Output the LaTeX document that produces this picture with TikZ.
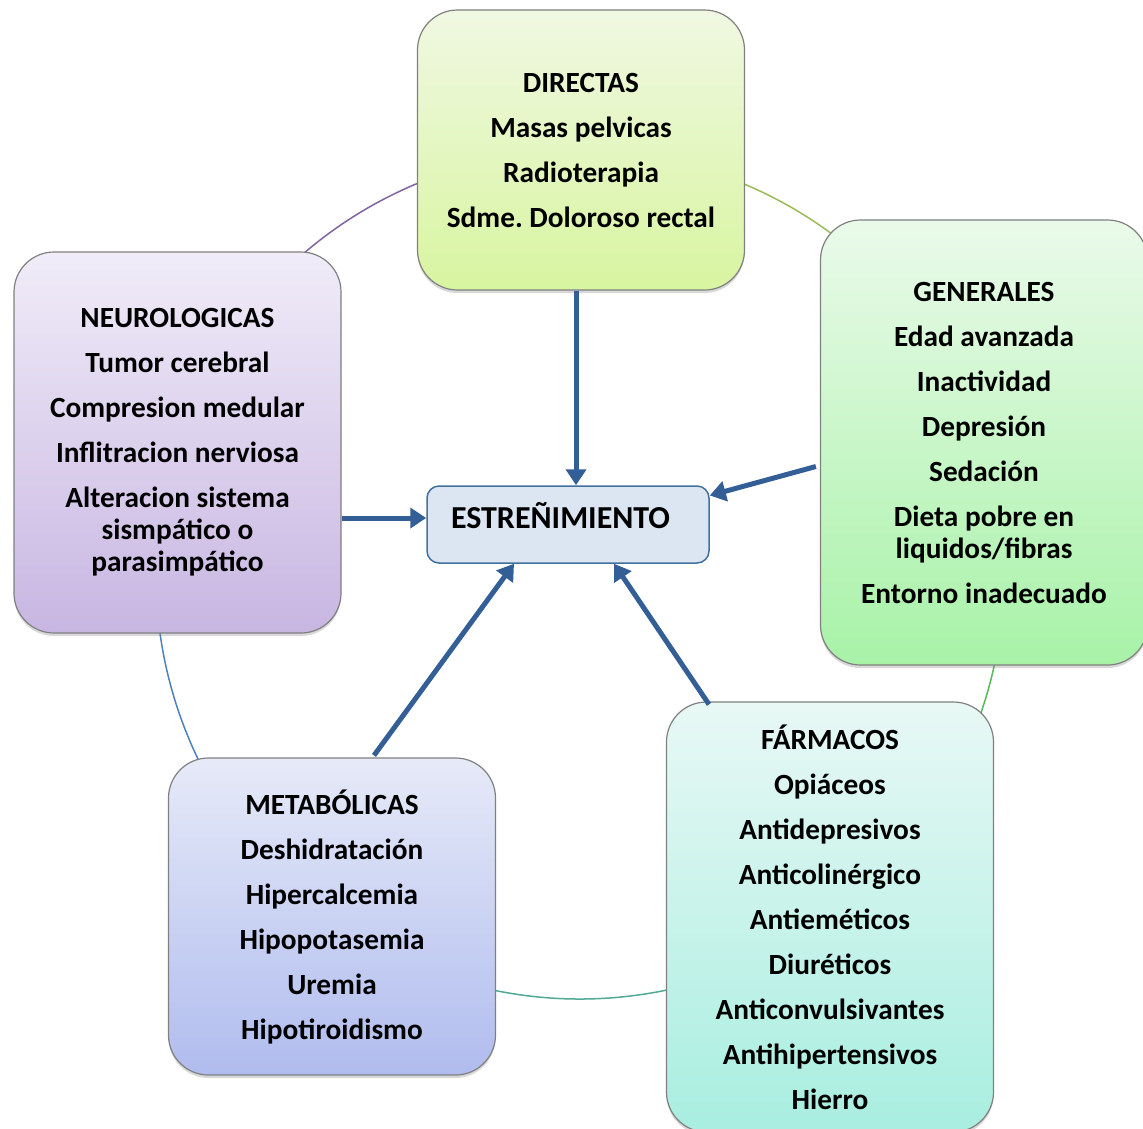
\documentclass[tikz,border=0pt]{standalone}
\usepackage{fontspec}
\setmainfont{Carlito}
\frenchspacing
\usetikzlibrary{arrows.meta,shadows}
\definecolor{arrowblue}{RGB}{52,95,150}
\definecolor{boxborder}{RGB}{128,128,128}
\definecolor{estfill}{RGB}{220,230,242}
\definecolor{estdraw}{RGB}{65,113,156}
\definecolor{arcolive}{RGB}{155,187,89}
\definecolor{arcpurple}{RGB}{128,100,162}
\definecolor{arcblue}{RGB}{79,129,189}
\definecolor{arcteal}{RGB}{80,170,150}
\definecolor{arcgreen}{RGB}{90,185,90}
\definecolor{dirtop}{RGB}{240,248,226}
\definecolor{dirbot}{RGB}{216,245,160}
\definecolor{gentop}{RGB}{234,250,234}
\definecolor{genbot}{RGB}{168,242,168}
\definecolor{neutop}{RGB}{240,236,248}
\definecolor{neubot}{RGB}{200,182,226}
\definecolor{mettop}{RGB}{230,234,248}
\definecolor{metbot}{RGB}{176,188,238}
\definecolor{fartop}{RGB}{232,248,245}
\definecolor{farbot}{RGB}{168,238,224}
\tikzset{
  catbox/.style={draw=boxborder, line width=1.2pt, rounded corners=40pt,
    minimum width=327pt, align=center, inner sep=0pt,
    font=\fontsize{29.3}{32}\selectfont\bfseries,
    drop shadow={shadow xshift=0pt, shadow yshift=-3pt, opacity=0.3}},
  estbox/.style={draw=estdraw, fill=estfill, line width=1.5pt, rounded corners=12pt,
    minimum width=282pt, minimum height=77pt, inner sep=0pt,
    font=\fontsize{32}{36}\selectfont\bfseries},
  arr/.style={draw=arrowblue, line width=5pt, -{Triangle[length=16pt,width=20pt]}},
  ring/.style={line width=1.5pt}
}
\begin{document}
\begin{tikzpicture}[x=1pt,y=-1pt]
\useasboundingbox (0,0) rectangle (1143,1128);
\clip (0,0) rectangle (1143,1128);
\fill[white] (0,0) rectangle (1143,1128);
\coordinate (c) at (580,575);
\draw[ring, arcolive]  ([shift={(10:424pt)}]c)  arc[start angle=10,  end angle=90,  radius=424pt];
\draw[ring, arcpurple] ([shift={(90:424pt)}]c)  arc[start angle=90,  end angle=160, radius=424pt];
\draw[ring, arcblue]   ([shift={(160:424pt)}]c) arc[start angle=160, end angle=240, radius=424pt];
\draw[ring, arcteal]   ([shift={(240:424pt)}]c) arc[start angle=240, end angle=320, radius=424pt];
\draw[ring, arcgreen]  ([shift={(320:424pt)}]c) arc[start angle=320, end angle=370, radius=424pt];

\node[catbox, top color=dirtop, bottom color=dirbot, minimum height=280pt] (dir) at (581,150)
  {DIRECTAS\\[13pt]Masas pelvicas\\[13pt]Radioterapia\\[13pt]Sdme. Doloroso rectal};
\node[catbox, top color=gentop, bottom color=genbot, minimum height=445pt] (gen) at (984,442.5)
  {GENERALES\\[13pt]Edad avanzada\\[13pt]Inactividad\\[13pt]Depresión\\[13pt]Sedación\\[13pt]Dieta pobre en\\liquidos/fibras\\[13pt]Entorno inadecuado};
\node[catbox, top color=neutop, bottom color=neubot, minimum height=381pt] (neu) at (177.5,442.5)
  {NEUROLOGICAS\\[13pt]Tumor cerebral\\[13pt]Compresion medular\\[13pt]Inflitracion nerviosa\\[13pt]Alteracion sistema\\sismpático o\\parasimpático};
\node[catbox, top color=mettop, bottom color=metbot, minimum height=317pt] (met) at (332,916.5)
  {METABÓLICAS\\[13pt]Deshidratación\\[13pt]Hipercalcemia\\[13pt]Hipopotasemia\\[13pt]Uremia\\[13pt]Hipotiroidismo};
\node[catbox, top color=fartop, bottom color=farbot, minimum height=430pt] (far) at (830,917)
  {FÁRMACOS\\[13pt]Opiáceos\\[13pt]Antidepresivos\\[13pt]Anticolinérgico\\[13pt]Antieméticos\\[13pt]Diuréticos\\[13pt]Anticonvulsivantes\\[13pt]Antihipertensivos\\[13pt]Hierro};
\node[estbox] (est) at (568,524.5) {\hspace*{-15pt}\raisebox{-7pt}{\smash{ESTREÑIMIENTO}}};

\draw[arr] ([xshift=-5pt]dir.south) -- ([xshift=8pt]est.north);
\draw[arr] ([xshift=-4pt,yshift=-24pt]gen.west) -- ([yshift=29pt]est.east);
\draw[arr] ([yshift=-75.5pt]neu.east) -- ([yshift=-75.5pt]neu.east -| est.west);
\draw[arr] ([xshift=42pt,yshift=2pt]met.north) -- ([xshift=-54pt]est.south);
\draw[arr] ([xshift=-121pt,yshift=-3pt]far.north) -- ([xshift=46pt]est.south);
\end{tikzpicture}
\end{document}
